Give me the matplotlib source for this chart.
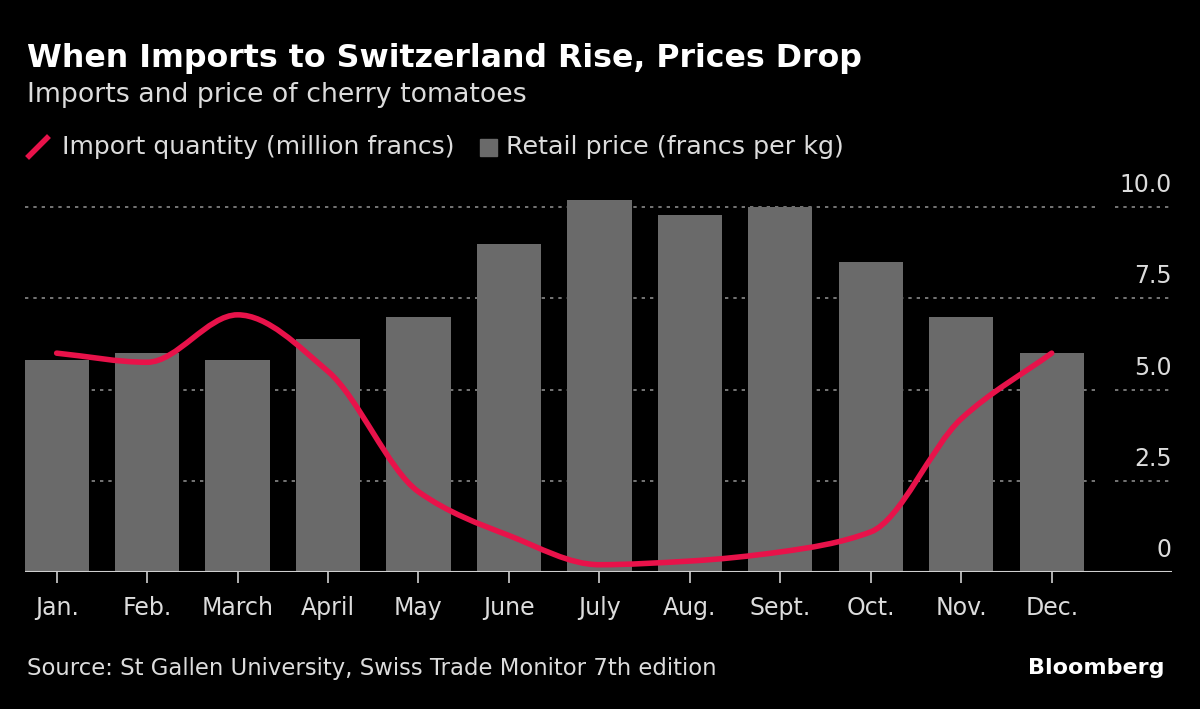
import numpy as np
import matplotlib.pyplot as plt
from matplotlib.path import Path
from matplotlib.patches import PathPatch, Rectangle
from matplotlib.lines import Line2D
import matplotlib.transforms as mtransforms

months = ["Jan.", "Feb.", "March", "April", "May", "June", "July",
          "Aug.", "Sept.", "Oct.", "Nov.", "Dec."]
retail_price = [5.8, 6.0, 5.8, 6.4, 7.0, 9.0, 10.2, 9.8, 10.0, 8.5, 7.0, 6.0]
import_qty = [6.0, 5.75, 7.05, 5.5, 2.2, 1.0, 0.2, 0.3, 0.55, 1.1, 4.2, 6.0]
yticks = [0, 2.5, 5.0, 7.5, 10.0]
ytick_labels = ["0", "2.5", "5.0", "7.5", "10.0"]

bg = "black"
bar_color = "#6a6a6a"
red = "#e8124a"
txt = "#dcdcdc"


def monotone_path(x, y):
    # monotone cubic (like d3 curveMonotoneX) as bezier segments
    x = np.asarray(x, float)
    y = np.asarray(y, float)
    h = np.diff(x)
    d = np.diff(y) / h
    m = np.zeros_like(y)
    m[0] = d[0]
    m[-1] = d[-1]
    for i in range(1, len(y) - 1):
        if d[i - 1] * d[i] <= 0:
            m[i] = 0
        else:
            m[i] = 2 / (1 / d[i - 1] + 1 / d[i])
    verts = [(x[0], y[0])]
    codes = [Path.MOVETO]
    for i in range(len(x) - 1):
        verts += [(x[i] + h[i] / 3, y[i] + m[i] * h[i] / 3),
                  (x[i + 1] - h[i] / 3, y[i + 1] - m[i + 1] * h[i] / 3),
                  (x[i + 1], y[i + 1])]
        codes += [Path.CURVE4] * 3
    return Path(verts, codes)


fig = plt.figure(figsize=(12, 7.09), dpi=100, facecolor=bg)
ax = fig.add_axes([25 / 1200, 137 / 709, 1147 / 1200, 383 / 709])
ax.set_facecolor(bg)

x = np.arange(len(months))
ax.set_xlim(-0.35, 12.33)
ax.set_ylim(0, 10.5)

# dotted grid, split in two parts like the original
for v in yticks[1:]:
    ax.plot([-0.35, 11.51], [v, v], color="#8a8a8a", lw=1.2,
            ls=(0, (2, 3)), zorder=1)
    ax.plot([11.70, 12.33], [v, v], color="#8a8a8a", lw=1.2,
            ls=(0, (2, 3)), zorder=1)

ax.bar(x, retail_price, width=0.71, color=bar_color, zorder=2)
ax.axhline(0, color="#cfcfcf", lw=1.5, zorder=3)

ax.add_patch(PathPatch(monotone_path(x, import_qty), facecolor="none",
                       edgecolor=red, lw=4.0, capstyle="round", zorder=4))

for s in ax.spines.values():
    s.set_visible(False)
ax.set_yticks([])
ax.set_xticks(x)
ax.set_xticklabels(months, fontsize=17, color=txt)
ax.tick_params(axis="x", colors="#cfcfcf", length=8, width=1.2, pad=9.5,
               labelcolor=txt)

lab_tr = mtransforms.offset_copy(ax.get_yaxis_transform(), fig=fig,
                                 y=10, units="dots")
for v, l in zip(yticks, ytick_labels):
    ax.text(1.0, v, l, transform=lab_tr, ha="right", va="bottom",
            fontsize=17, color=txt)

# titles
fig.text(27 / 1200, 1 - 58 / 709, "When Imports to Switzerland Rise, Prices Drop",
         fontsize=22.8, fontweight="bold", color="white", va="center")
fig.text(27 / 1200, 1 - 95 / 709, "Imports and price of cherry tomatoes",
         fontsize=19.3, color=txt, va="center")

# legend
fig.add_artist(Line2D([29 / 1200, 47 / 1200], [1 - 156 / 709, 1 - 138 / 709],
                      color=red, lw=4, transform=fig.transFigure))
fig.text(62 / 1200, 1 - 147 / 709, "Import quantity (million francs)",
         fontsize=18.1, color=txt, va="center")
fig.add_artist(Rectangle((480 / 1200, 1 - 156 / 709), 17 / 1200, 17 / 709,
                         color=bar_color, transform=fig.transFigure))
fig.text(506 / 1200, 1 - 147 / 709, "Retail price (francs per kg)",
         fontsize=18.3, color=txt, va="center")

# footer
fig.text(27 / 1200, 1 - 669 / 709,
         "Source: St Gallen University, Swiss Trade Monitor 7th edition",
         fontsize=16.4, color=txt, va="center")
fig.text(1165 / 1200, 1 - 668 / 709, "Bloomberg", fontsize=16,
         fontweight="bold", color="white", ha="right", va="center")

fig.savefig("out.png", dpi=100, facecolor=bg)
